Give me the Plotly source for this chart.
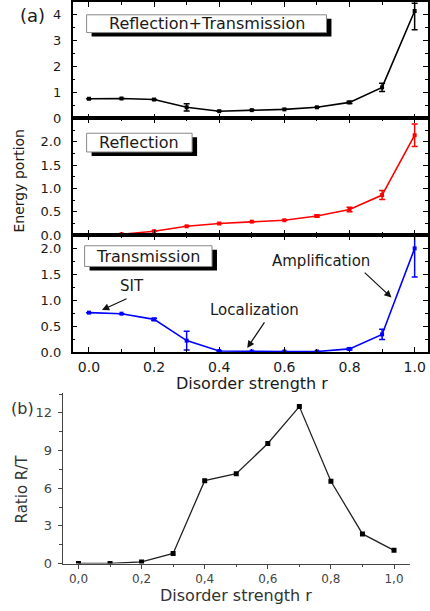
import plotly.graph_objects as go

# ---------------- data ----------------
r = [0.0, 0.1, 0.2, 0.3, 0.4, 0.5, 0.6, 0.7, 0.8, 0.9, 1.0]
rt = [0.76, 0.77, 0.73, 0.43, 0.28, 0.32, 0.35, 0.43, 0.62, 1.20, 4.15]
rt_err_plus = [0, 0, 0, 0.14, 0, 0, 0, 0, 0.04, 0.16, 0.30]
rt_err_minus = [0, 0, 0, 0.14, 0, 0, 0, 0, 0.04, 0.16, 0.72]
refl = [0.0, 0.02, 0.085, 0.19, 0.25, 0.29, 0.32, 0.41, 0.55, 0.86, 2.14]
refl_err = [0, 0, 0, 0, 0, 0, 0, 0.02, 0.05, 0.095, 0.24]
trans = [0.76, 0.74, 0.63, 0.22, 0.02, 0.01, 0.01, 0.01, 0.06, 0.34, 2.0]
trans_err = [0, 0, 0.02, 0.18, 0, 0, 0, 0, 0.02, 0.10, 0.55]
ratio = [0.0, 0.0, 0.13, 0.8, 6.6, 7.15, 9.56, 12.5, 6.55, 2.36, 1.05]

xb_ticks = [0.0, 0.2, 0.4, 0.6, 0.8, 1.0]
xb_ticktext = ["0,0", "0,2", "0,4", "0,6", "0,8", "1,0"]

W, H = 430, 611
def px(x):
    return x / W
def py(y):
    return 1 - y / H

FONT = "DejaVu Sans"
TXT = "#1a1a1a"

fig = go.Figure()

def add_series(y, color, xa, ya, err_plus, err_minus=None):
    ey = dict(type="data", array=err_plus, color=color, thickness=1.5, width=3, visible=True)
    if err_minus is not None:
        ey["symmetric"] = False
        ey["arrayminus"] = err_minus
    fig.add_trace(go.Scatter(
        x=r, y=y, mode="lines+markers", xaxis=xa, yaxis=ya,
        line=dict(color=color, width=1.6),
        marker=dict(symbol="square", size=4, color=color),
        error_y=ey, cliponaxis=False, showlegend=False))

add_series(rt, "#000000", "x", "y", rt_err_plus, rt_err_minus)
add_series(refl, "#ff0000", "x2", "y2", refl_err)
add_series(trans, "#0000ff", "x3", "y3", trans_err)

fig.add_trace(go.Scatter(
    x=r, y=ratio, mode="lines+markers", xaxis="x4", yaxis="y4",
    line=dict(color="#222222", width=1.3),
    marker=dict(symbol="square", size=5, color="#000000"),
    showlegend=False))

# ---------------- axes ----------------
xdom_a = [px(73), 1.0]
xr_a = [-0.05, 1.041]

def xa_a(anchor, labels):
    return dict(domain=xdom_a, range=xr_a, anchor=anchor, showline=True, linecolor="#000",
                linewidth=1.6, mirror="allticks", ticks="inside", ticklen=5, tickwidth=1.4,
                tickcolor="#000", tickvals=[0, 0.2, 0.4, 0.6, 0.8, 1.0],
                ticktext=["0.0", "0.2", "0.4", "0.6", "0.8", "1.0"],
                showticklabels=labels, ticklabelstandoff=1,
                minor=dict(ticks="inside", tickvals=[0.1, 0.3, 0.5, 0.7, 0.9], ticklen=3,
                           tickwidth=1.2, tickcolor="#000"),
                showgrid=False, zeroline=False,
                tickfont=dict(family=FONT, size=14, color=TXT))

def ya_a(anchor, dom, rng, vals, text, minor_vals):
    return dict(domain=dom, range=rng, anchor=anchor, showline=True, linecolor="#000",
                linewidth=1.6, mirror="allticks", ticks="inside", ticklen=5, tickwidth=1.4,
                tickcolor="#000", tickvals=vals, ticktext=text, ticklabelstandoff=7,
                minor=dict(ticks="inside", tickvals=minor_vals, ticklen=3, tickwidth=1.2,
                           tickcolor="#000"),
                showgrid=False, zeroline=False,
                tickfont=dict(family=FONT, size=13, color=TXT))

layout = dict(
    width=W, height=H, margin=dict(l=0, r=0, t=0, b=0),
    paper_bgcolor="white", plot_bgcolor="white",
    xaxis=xa_a("y", False),
    xaxis2=xa_a("y2", False),
    xaxis3=xa_a("y3", True),
    yaxis=ya_a("x", [py(120), py(2)], [0, 4.5], [0, 1, 2, 3, 4], ["0", "1", "2", "3", "4"],
               [0.5, 1.5, 2.5, 3.5, 4.5]),
    yaxis2=ya_a("x2", [py(238.3), py(120)], [0, 2.5], [0, 0.5, 1.0, 1.5, 2.0],
                ["0.0", "0.5", "1.0", "1.5", "2.0"], [0.25, 0.75, 1.25, 1.75, 2.25]),
    yaxis3=ya_a("x3", [py(356.7), py(238.3)], [0, 2.255], [0, 0.5, 1.0, 1.5, 2.0],
                ["0.0", "0.5", "1.0", "1.5", "2.0"], [0.25, 0.75, 1.25, 1.75, 2.25]),
    xaxis4=dict(domain=[px(63), px(411.7)], range=[-0.05, 1.05], anchor="y4", showline=True,
                linecolor="#444", linewidth=1.2, ticks="outside", ticklen=4, tickwidth=1,
                tickcolor="#444", tickvals=xb_ticks, ticktext=xb_ticktext,
                minor=dict(ticks="outside", tickvals=[0.1, 0.3, 0.5, 0.7, 0.9], ticklen=2.5,
                           tickcolor="#444"),
                showgrid=False, zeroline=False, ticklabelstandoff=0,
                tickfont=dict(family=FONT, size=12, color="#444")),
    yaxis4=dict(domain=[py(571), py(398)], range=[0, 13.6], anchor="x4", showline=True,
                linecolor="#444", linewidth=1.2, ticks="outside", ticklen=4, tickwidth=1,
                tickcolor="#444", tickvals=[0, 3, 6, 9, 12],
                minor=dict(ticks="outside", tickvals=[1.5, 4.5, 7.5, 10.5, 13.5], ticklen=2.5,
                           tickcolor="#444"),
                showgrid=False, zeroline=False, ticklabelstandoff=3,
                tickfont=dict(family=FONT, size=13, color="#444")),
)
fig.update_layout(**layout)

# ---------------- boxed labels ----------------
boxes = [("Reflection+Transmission", 87, 15, 328, 33),
         ("Reflection", 87, 135, 193, 154),
         ("Transmission", 85, 249, 213, 270)]
shapes = []
annotations = []
for text, x0, y0, x1, y1 in boxes:
    shapes.append(dict(type="rect", xref="paper", yref="paper", x0=px(x0 + 5), x1=px(x1 + 5),
                       y0=py(y1 + 4), y1=py(y0 + 4), fillcolor="#000", line=dict(width=0),
                       layer="above"))
    shapes.append(dict(type="rect", xref="paper", yref="paper", x0=px(x0), x1=px(x1),
                       y0=py(y1), y1=py(y0), fillcolor="#fff",
                       line=dict(color="#888", width=1), layer="above"))
    annotations.append(dict(xref="paper", yref="paper", x=px((x0 + x1) / 2), y=py((y0 + y1) / 2),
                            text=text, showarrow=False, xanchor="center", yanchor="middle",
                            font=dict(family=FONT, size=16, color=TXT)))

# arrows in transmission panel
arrows = [(0.04, 0.81, 0.12, 1.04), (0.486, 0.08, 0.542, 0.60), (0.929, 1.05, 0.842, 1.56)]
for xt, yt, xf, yf in arrows:
    annotations.append(dict(xref="x3", yref="y3", x=xt, y=yt, axref="x3", ayref="y3", ax=xf, ay=yf,
                            text="", showarrow=True, arrowhead=2, arrowsize=1.2, arrowwidth=1.2,
                            arrowcolor="#111"))

labels = [("SIT", 133, 290), ("Localization", 256, 314), ("Amplification", 323, 264)]
for t, x, y in labels:
    annotations.append(dict(xref="paper", yref="paper", x=px(x), y=py(y), text=t, showarrow=False,
                            xanchor="center", yanchor="middle",
                            font=dict(family=FONT, size=15, color=TXT)))

# titles & panel labels
annotations += [
    dict(xref="paper", yref="paper", x=px(253), y=py(389), text="Disorder strength r",
         showarrow=False, xanchor="center", yanchor="middle",
         font=dict(family=FONT, size=16, color=TXT)),
    dict(xref="paper", yref="paper", x=px(19), y=py(183), text="Energy portion", textangle=-90,
         showarrow=False, xanchor="center", yanchor="middle",
         font=dict(family=FONT, size=14, color=TXT)),
    dict(xref="paper", yref="paper", x=px(237), y=py(603), text="Disorder strength r",
         showarrow=False, xanchor="center", yanchor="middle",
         font=dict(family=FONT, size=16, color="#333")),
    dict(xref="paper", yref="paper", x=px(22), y=py(495), text="Ratio R/T", textangle=-90,
         showarrow=False, xanchor="center", yanchor="middle",
         font=dict(family=FONT, size=15, color="#333")),
    dict(xref="paper", yref="paper", x=px(33), y=py(16), text="(a)", showarrow=False,
         xanchor="center", yanchor="middle", font=dict(family=FONT, size=18, color=TXT)),
    dict(xref="paper", yref="paper", x=px(23), y=py(414), text="(b)", showarrow=False,
         xanchor="center", yanchor="middle", font=dict(family=FONT, size=16, color="#333")),
]

fig.update_layout(shapes=shapes, annotations=annotations)
fig.write_html("out.html")
